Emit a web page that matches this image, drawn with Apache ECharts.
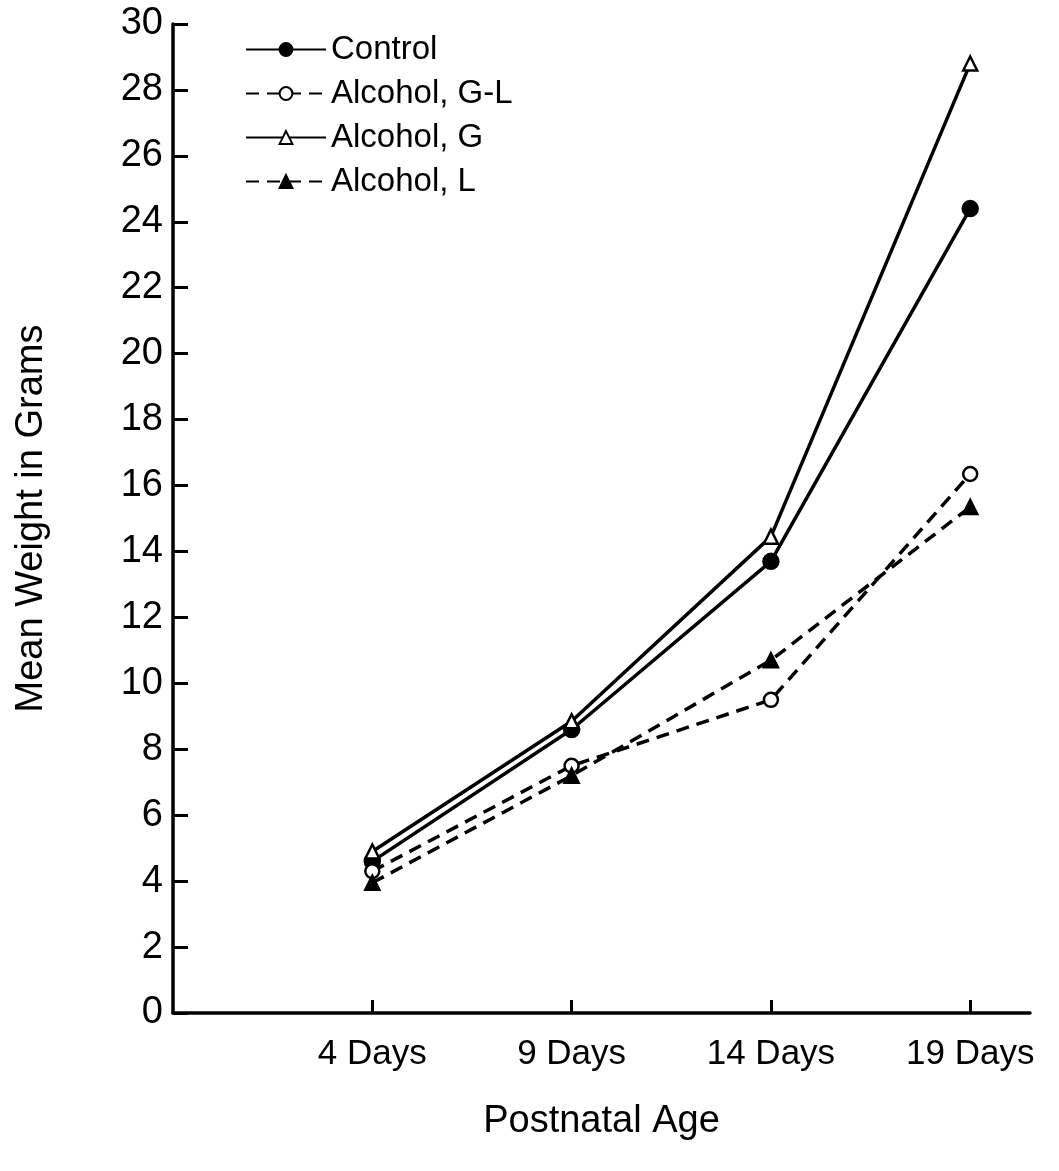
<!DOCTYPE html>
<html>
<head>
<meta charset="utf-8">
<script src="https://cdn.jsdelivr.net/npm/echarts@6/dist/echarts.min.js"></script>
<style>
  html, body { margin: 0; padding: 0; background: #fff; }
  #chart { width: 1059px; height: 1171px; }
</style>
</head>
<body>
<div id="chart"></div>
<script>
const days = [4, 9, 14, 19];
const dayLabels = ['4 Days', '9 Days', '14 Days', '19 Days'];
const control = [4.6, 8.6, 13.7, 24.4];
const alcoholGL = [4.3, 7.5, 9.5, 16.35];
const alcoholG = [4.9, 8.85, 14.45, 28.8];
const alcoholL = [3.95, 7.2, 10.7, 15.35];
const yTicks = [0, 2, 4, 6, 8, 10, 12, 14, 16, 18, 20, 22, 24, 26, 28, 30];

const font = 'Liberation Sans';

const pairs = (vals) => vals.map((v, i) => [days[i], v]);

const chart = echarts.init(document.getElementById('chart'));

const lineSeries = (name, vals, dashed, symbol, filled, size) => ({
  name: name,
  type: 'line',
  data: pairs(vals),
  symbol: symbol,
  symbolSize: size,
  showAllSymbol: true,
  lineStyle: { color: '#000', width: 3.5, type: dashed ? [13, 8] : 'solid' },
  itemStyle: { color: filled ? '#000' : '#fff', borderColor: '#000', borderWidth: 2.5 },
  emphasis: { disabled: true },
  z: 3
});

const option = {
  animation: false,
  backgroundColor: '#fff',
  textStyle: { fontFamily: font, color: '#000' },
  grid: { left: 173, right: 29, top: 24, bottom: 158, containLabel: false, outerBoundsMode: 'none' },
  legend: {
    orient: 'vertical',
    left: 240,
    top: 28,
    itemWidth: 80,
    itemHeight: 16,
    itemGap: 11,
    textStyle: { fontSize: 33, color: '#000', fontFamily: font },
    data: ['Control', 'Alcohol, G-L', 'Alcohol, G', 'Alcohol, L']
  },
  xAxis: {
    type: 'value',
    min: -1,
    max: 20.5,
    name: 'Postnatal Age',
    nameLocation: 'middle',
    nameGap: 90,
    nameTextStyle: { fontSize: 38, color: '#000', fontFamily: font },
    axisLine: { onZero: false, lineStyle: { color: '#000', width: 3.5 } },
    axisTick: { show: true, length: -13, lineStyle: { color: '#000', width: 3 }, customValues: days },
    axisLabel: {
      fontSize: 35, color: '#000', margin: 24,
      customValues: days,
      formatter: (v) => dayLabels[days.indexOf(v)] || ''
    },
    splitLine: { show: false }
  },
  yAxis: {
    type: 'value',
    min: 0,
    max: 30,
    interval: 2,
    name: 'Mean Weight in Grams',
    nameLocation: 'middle',
    nameGap: 122,
    nameTextStyle: { fontSize: 38, color: '#000', fontFamily: font },
    axisLine: { show: true, onZero: false, lineStyle: { color: '#000', width: 3.5 } },
    axisTick: { show: true, length: -15, lineStyle: { color: '#000', width: 3 } },
    axisLabel: {
      fontSize: 38, color: '#000', margin: 10,
      formatter: (v) => yTicks.indexOf(v) >= 0 ? String(v) : ''
    },
    splitLine: { show: false }
  },
  series: [
    lineSeries('Control', control, false, 'circle', true, 15),
    lineSeries('Alcohol, G-L', alcoholGL, true, 'circle', false, 14),
    lineSeries('Alcohol, G', alcoholG, false, 'triangle', false, 14),
    lineSeries('Alcohol, L', alcoholL, true, 'triangle', true, 14)
  ]
};

chart.setOption(option);
</script>
</body>
</html>
